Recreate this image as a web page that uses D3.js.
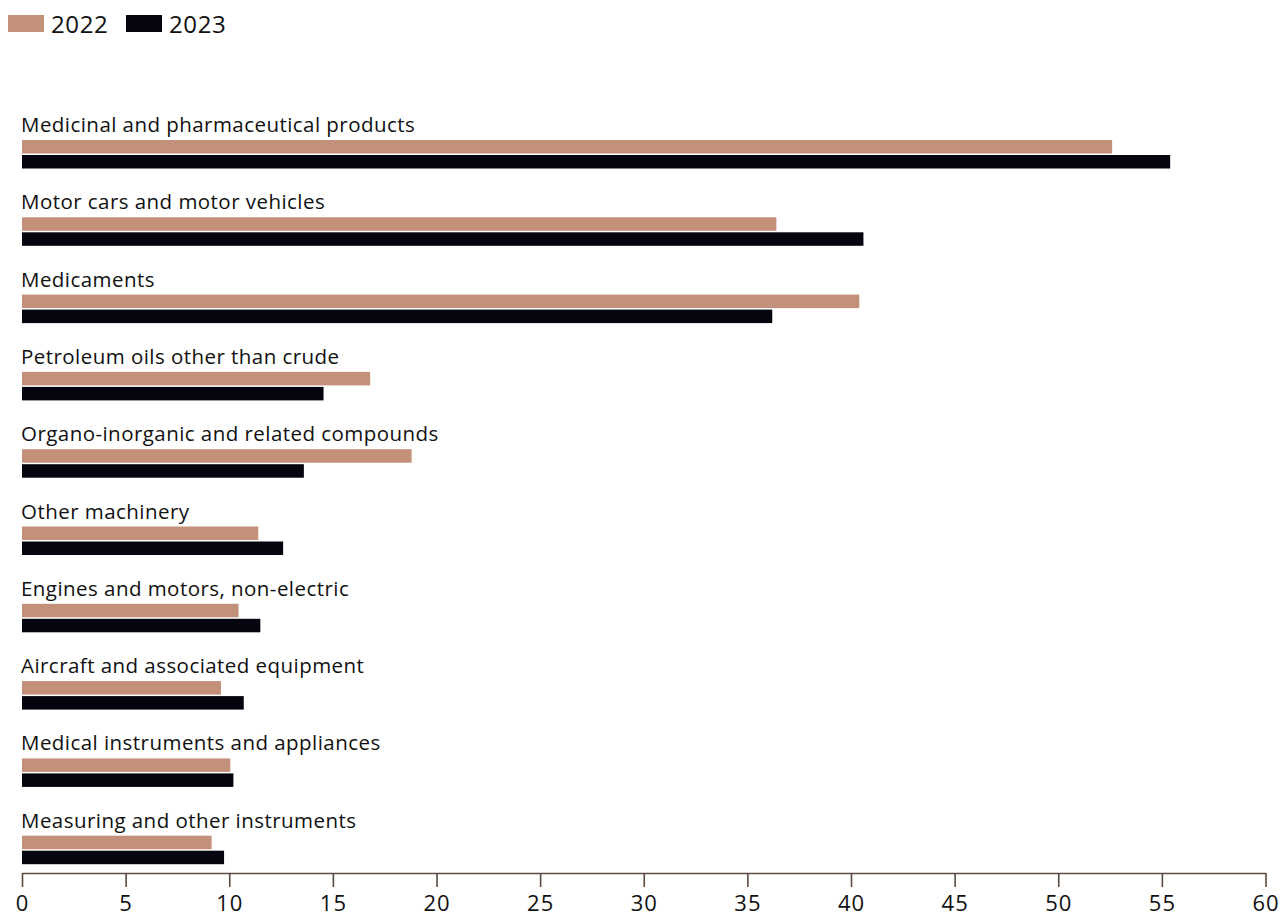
<!DOCTYPE html>
<html>
<head>
<meta charset="utf-8">
<script src="https://cdn.jsdelivr.net/npm/d3@7"></script>
<style>
  body { margin: 0; background: #fff; }
  svg { display: block; font-family: 'Open Sans', sans-serif; }
</style>
</head>
<body>
<div id="chart"></div>
<script>
// categories, top to bottom
const categories = [
  'Medicinal and pharmaceutical products',
  'Motor cars and motor vehicles',
  'Medicaments',
  'Petroleum oils other than crude',
  'Organo-inorganic and related compounds',
  'Other machinery',
  'Engines and motors, non-electric',
  'Aircraft and associated equipment',
  'Medical instruments and appliances',
  'Measuring and other instruments'
]
const series = ['2022', '2023']
const values2022 = [52.6, 36.4, 40.4, 16.8, 18.8, 11.4, 10.45, 9.6, 10.05, 9.15]
const values2023 = [55.4, 40.6, 36.2, 14.55, 13.6, 12.6, 11.5, 10.7, 10.2, 9.75]
const xTicks = [0, 5, 10, 15, 20, 25, 30, 35, 40, 45, 50, 55, 60]

const width = 1282
const height = 916
const colors = { '2022': '#c3907a', '2023': '#05050f' }

const svg = d3.select('#chart').append('svg')
  .attr('width', width)
  .attr('height', height)

const x = d3.scaleLinear()
  .domain([0, 60])
  .range([22, 1265.5])

const y = d3.scaleBand()
  .domain(categories)
  .range([108, 108 + 77.3 * categories.length])

const ySub = d3.scaleBand()
  .domain(series)
  .range([32, 60.5])
  .paddingInner(0.1)

const rows = categories.map((name, i) => ({
  name,
  values: [
    { key: '2022', value: values2022[i] },
    { key: '2023', value: values2023[i] }
  ]
}))

// legend
const legend = svg.append('g')
legend.selectAll('g')
  .data(series)
  .enter()
  .append('g')
  .attr('transform', (d, i) => `translate(${8 + i * 118}, 0)`)
  .each(function (d) {
    const g = d3.select(this)
    g.append('rect')
      .attr('x', 0).attr('y', 15)
      .attr('width', 36).attr('height', 17)
      .attr('fill', colors[d])
    g.append('text')
      .attr('x', 43).attr('y', 33)
      .style('font-size', '24px')
      .style('letter-spacing', '0.6px')
      .attr('fill', '#111')
      .text(d)
  })

// rows
const row = svg.selectAll('.row')
  .data(rows)
  .enter()
  .append('g')
  .attr('class', 'row')
  .attr('transform', d => `translate(0, ${y(d.name)})`)

row.append('text')
  .attr('x', 21)
  .attr('y', 24)
  .style('font-size', '20.5px')
  .style('letter-spacing', '0.45px')
  .attr('fill', '#111')
  .text(d => d.name)

row.selectAll('rect')
  .data(d => d.values)
  .enter()
  .append('rect')
  .attr('x', x(0))
  .attr('y', d => ySub(d.key))
  .attr('width', d => x(d.value) - x(0))
  .attr('height', ySub.bandwidth())
  .attr('fill', d => colors[d.key])

// x axis
const axis = svg.append('g')
  .attr('transform', 'translate(0, 873)')
  .call(d3.axisBottom(x)
    .tickValues(xTicks)
    .tickSize(14)
    .tickSizeOuter(0)
    .tickPadding(8))

axis.select('.domain').attr('stroke', '#5a4a42').attr('stroke-width', 1.6)
axis.selectAll('.tick line').attr('stroke', '#5a4a42').attr('stroke-width', 1.6)
axis.selectAll('.tick text')
  .style('font-size', '22px')
  .style('letter-spacing', '1px')
  .style('font-family', "'Open Sans', sans-serif")
  .attr('fill', '#111')
</script>
</body>
</html>
